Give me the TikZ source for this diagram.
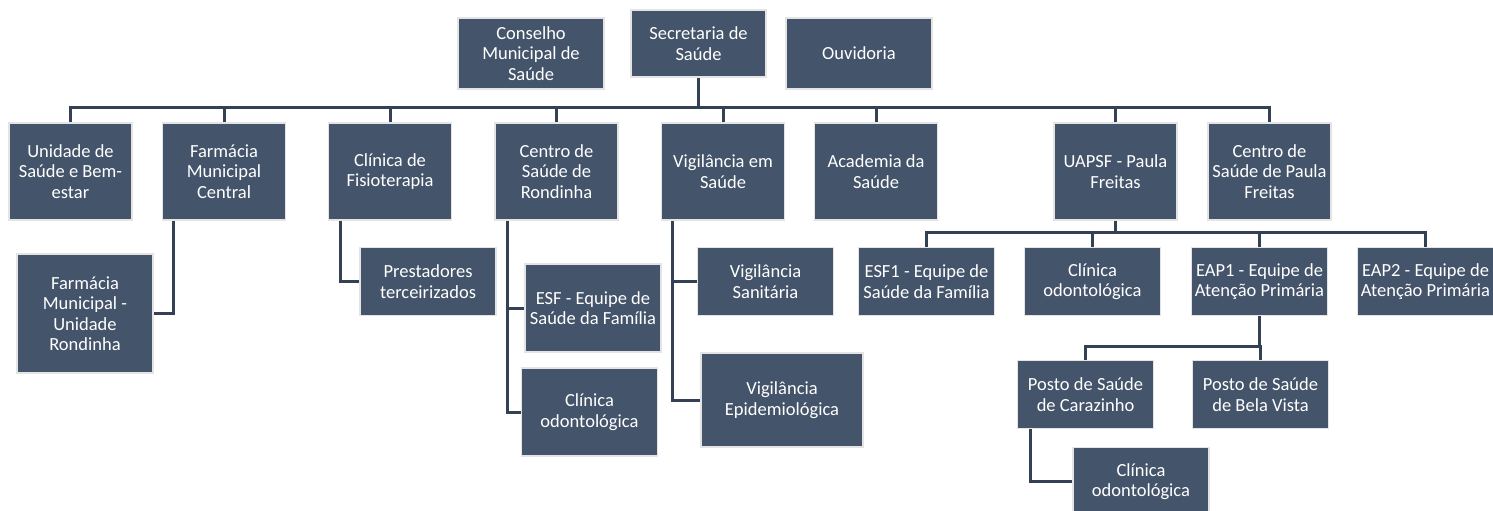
\documentclass[tikz,border=0pt]{standalone}
\usepackage{fontspec}
\setmainfont{Carlito}
\usepackage{tikz}

\definecolor{boxfill}{HTML}{44546A}
\definecolor{boxline}{HTML}{E4E4E4}
\definecolor{linkcol}{HTML}{344154}

\begin{document}
\begin{tikzpicture}[x=1pt,y=-1pt,
    box/.style={draw=boxline,line width=1.5pt,fill=boxfill,text=white,align=center,
      inner sep=1pt,font=\fontsize{18.5}{20.5}\selectfont},
    unit/.style={box,minimum width=123pt,minimum height=97pt},
    sub/.style={box,minimum width=136pt,minimum height=68pt},
    link/.style={draw=linkcol,line width=3pt}]
\useasboundingbox (0,0) rectangle (1493,511);

% top row
\node [box,minimum width=146pt,minimum height=71pt] (cons) at (531,53.5) {Conselho\\Municipal de\\Saúde};
\node [box,minimum width=135pt,minimum height=67pt] (sec) at (698.5,43.5) {Secretaria de\\Saúde};
\node [box,minimum width=146pt,minimum height=71pt] (ouv) at (859,53.5) {Ouvidoria};

% second row
\node [unit] (unid) at (70.5,171.5) {Unidade de\\Saúde e Bem-\\estar};
\node [unit] (farmc) at (224,171.5) {Farmácia\\Municipal\\Central};
\node [unit] (fisio) at (390,171.5) {Clínica de\\Fisioterapia};
\node [unit] (rond) at (556.5,171.5) {Centro de\\Saúde de\\Rondinha};
\node [unit] (vig) at (723,171.5) {Vigilância em\\Saúde};
\node [unit] (acad) at (876,171.5) {Academia da\\Saúde};
\node [unit] (uapsf) at (1115.5,171.5) {UAPSF - Paula\\Freitas};
\node [unit] (cpf) at (1269.5,171.5) {Centro de\\Saúde de Paula\\Freitas};

% hanging boxes
\node [sub,minimum height=119pt] (farmr) at (85,313.5) {Farmácia\\Municipal -\\Unidade\\Rondinha};
\node [sub] (prest) at (428,281.5) {Prestadores\\terceirizados};
\node [sub,minimum height=88pt] (esf) at (593,308) {ESF - Equipe de\\Saúde da Família};
\node [sub,minimum height=88pt] (odo1) at (589.5,412) {Clínica\\odontológica};
\node [sub] (vigsan) at (765.5,281.5) {Vigilância\\Sanitária};
\node [sub,minimum width=162pt,minimum height=94pt] (vigepi) at (782,400) {Vigilância\\Epidemiológica};

% under UAPSF
\node [sub] (esf1) at (926.5,281.5) {ESF1 - Equipe de\\Saúde da Família};
\node [sub] (odo2) at (1092.5,281.5) {Clínica\\odontológica};
\node [sub] (eap1) at (1259.5,281.5) {EAP1 - Equipe de\\Atenção Primária};
\node [sub] (eap2) at (1425.5,281.5) {EAP2 - Equipe de\\Atenção Primária};
\node [sub] (postc) at (1085.5,394.5) {Posto de Saúde\\de Carazinho};
\node [sub] (postb) at (1260.5,394.5) {Posto de Saúde\\de Bela Vista};
\node [sub] (odo3) at (1141,481.5) {Clínica\\odontológica};

\coordinate (bus1) at (0,107);
\coordinate (bus2) at (0,232);
\coordinate (bus3) at (0,346);

% main bus
\draw [link] (sec.south) -- (sec |- bus1);
\draw [link] (unid.north) -- (unid |- bus1) -- (cpf |- bus1) -- (cpf.north);
\foreach \n in {farmc,fisio,rond,vig,acad,uapsf}
  \draw [link] (\n.north) -- (\n |- bus1);

% side branches
\draw [link] ([xshift=12pt]farmc.south west) |- (farmr.east);
\draw [link] ([xshift=13pt]fisio.south west) |- (prest.west);
\draw [link] ([xshift=13pt]rond.south west) |- (odo1.west);
\draw [link] ([xshift=13pt]rond.south west |- esf.west) -- (esf.west);
\draw [link] ([xshift=12pt]vig.south west) |- (vigepi.west);
\draw [link] ([xshift=12pt]vig.south west |- vigsan.west) -- (vigsan.west);

% UAPSF
\draw [link] (uapsf.south) -- (uapsf |- bus2);
\draw [link] (esf1.north) -- (esf1 |- bus2) -- (eap2 |- bus2) -- (eap2.north);
\draw [link] (odo2.north) -- (odo2 |- bus2);
\draw [link] (eap1.north) -- (eap1 |- bus2);

% EAP1
\draw [link] (eap1.south) -- (eap1 |- bus3);
\draw [link] (postc.north) -- (postc |- bus3) -- (postb |- bus3) -- (postb.north);
\draw [link] ([xshift=14pt]postc.south west) |- (odo3.west);
\end{tikzpicture}
\end{document}
